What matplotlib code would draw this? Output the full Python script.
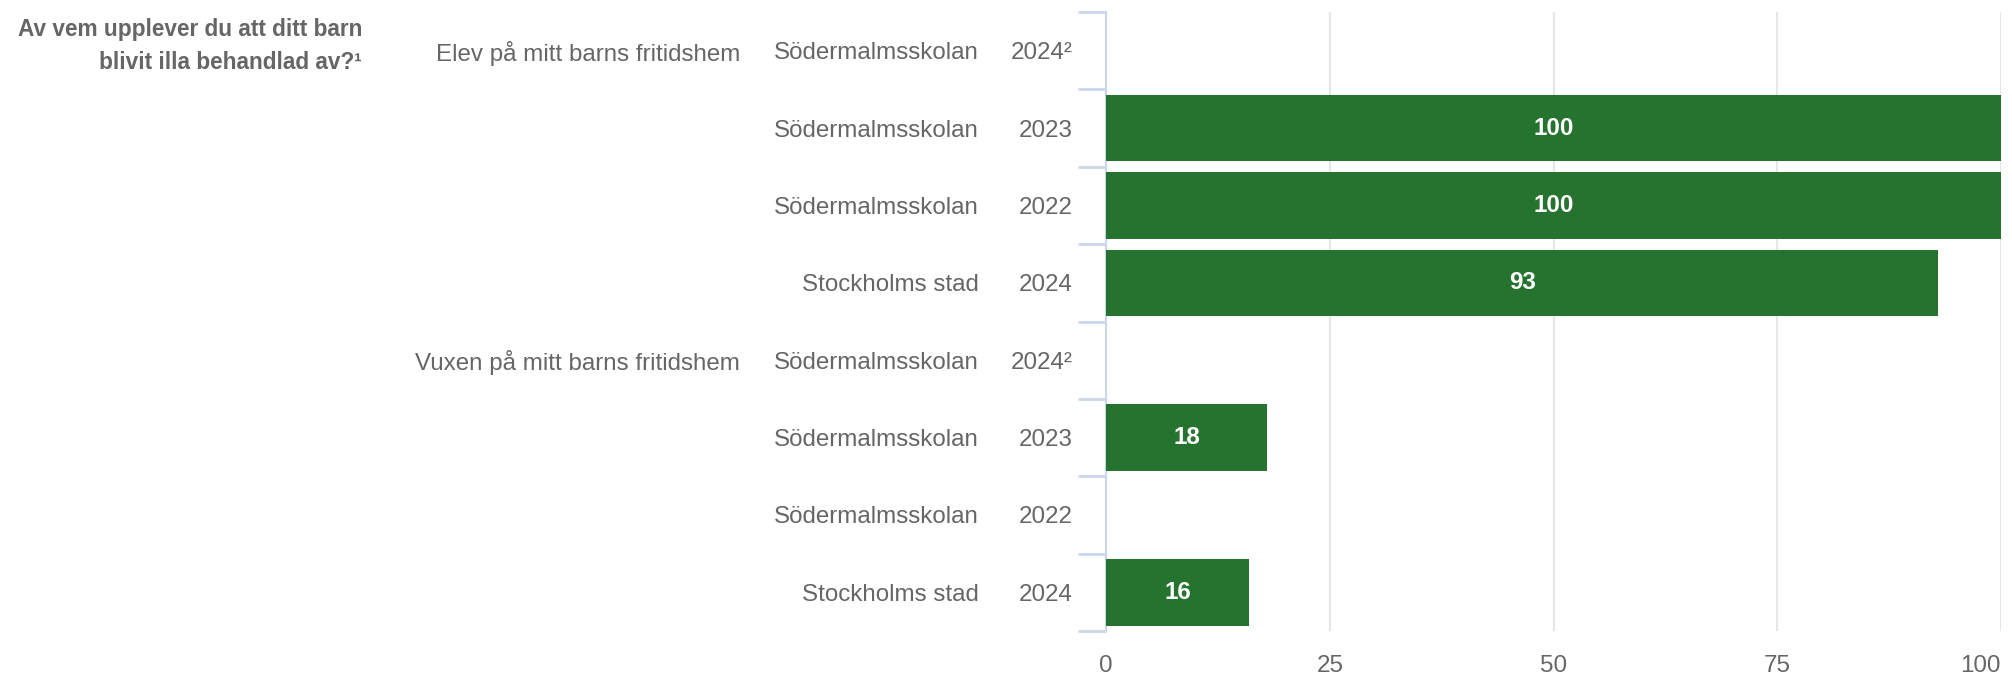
import numpy as np
import matplotlib
matplotlib.use("Agg")
from matplotlib import pyplot as plt
from matplotlib.transforms import blended_transform_factory, ScaledTranslation

# chart data
title = "Av vem upplever du att ditt barn\nblivit illa behandlad av?\u00b9"
groups = ["Elev på mitt barns fritidshem", "", "", "",
          "Vuxen på mitt barns fritidshem", "", "", ""]
schools = ["Södermalmsskolan", "Södermalmsskolan", "Södermalmsskolan", "Stockholms stad",
           "Södermalmsskolan", "Södermalmsskolan", "Södermalmsskolan", "Stockholms stad"]
years = ["2024\u00b2", "2023", "2022", "2024", "2024\u00b2", "2023", "2022", "2024"]
values = [np.nan, 100, 100, 93, np.nan, 18, np.nan, 16]
x_ticks = [0, 25, 50, 75, 100]

plt.rcParams["font.family"] = ["Liberation Sans", "DejaVu Sans"]
W, H = 2012, 676
fig = plt.figure(figsize=(W / 100, H / 100), dpi=100)
ax = fig.add_axes([1106 / W, 1 - 631 / H, (2001 - 1106) / W, (631 - 12) / H])

grey = "#666666"
fs = 17.4
pos = np.arange(len(values))

ax.barh(pos, np.nan_to_num(values), height=0.86, color="#267330", zorder=3)
for p, v in zip(pos, values):
    if not np.isnan(v):
        ax.text(v / 2, p, f"{v:.0f}", ha="center", va="center", color="white",
                fontsize=fs, fontweight="bold", zorder=4)

ax.set_xlim(0, 100)
ax.set_ylim(len(values) - 0.5, -0.5)
ax.set_xticks(x_ticks)
ax.tick_params(axis="x", length=0, pad=17, labelsize=fs, labelcolor=grey)
ax.get_xticklabels()[-1].set_ha("right")
ax.grid(axis="x", color="#e6e6e6", linewidth=1.5, zorder=0)
for s in ["top", "right", "bottom"]:
    ax.spines[s].set_visible(False)
ax.spines["left"].set_color("#ccd6eb")
ax.spines["left"].set_linewidth(1.5)
ax.set_yticks([])
ax.set_yticks(np.arange(len(values) + 1) - 0.5, minor=True)
ax.tick_params(axis="y", which="minor", length=20, width=2, color="#ccd6eb")

# category labels, nudged down a little to sit like the reference
tr = blended_transform_factory(fig.transFigure, ax.transData) + \
    ScaledTranslation(0, -0.025, fig.dpi_scale_trans)
for p, g, s, y in zip(pos, groups, schools, years):
    ax.text(1073 / W, p, y, transform=tr, ha="right", va="center", fontsize=fs, color=grey)
    ax.text(979 / W, p, s, transform=tr, ha="right", va="center", fontsize=fs, color=grey)
    if g:
        ax.text(740 / W, p, g, transform=tr, ha="right", va="center", fontsize=fs, color=grey)

fig.text(362 / W, 1 - 46 / H, title, ha="right", va="center", fontsize=16.3,
         fontweight="bold", color=grey, linespacing=1.55)

fig.savefig("out.png", dpi=100)
